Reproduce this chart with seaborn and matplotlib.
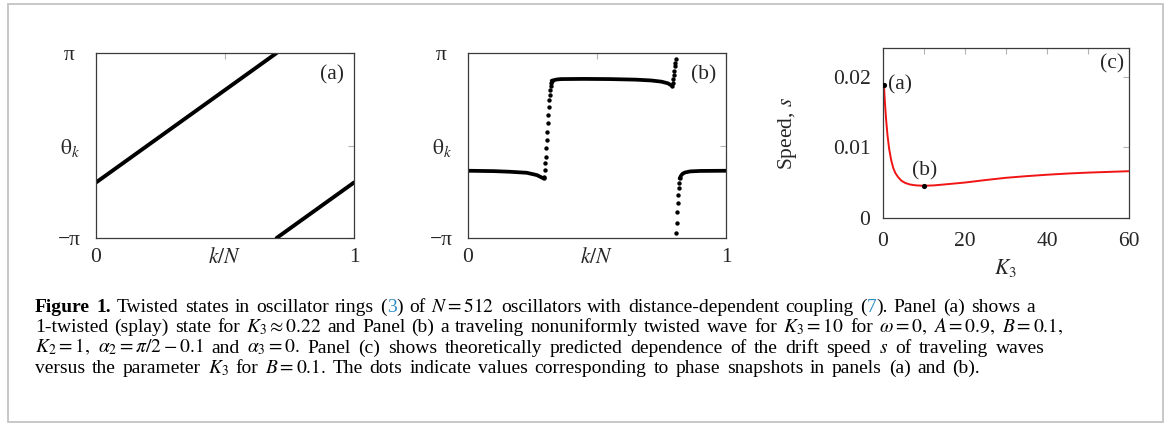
import numpy as np
import matplotlib
matplotlib.use("Agg")
import matplotlib.pyplot as plt
from matplotlib.patches import Rectangle
import seaborn as sns

# ---------------- data ----------------
N = 512

# (a) 1-twisted splay state, phase in units of pi
A_K_UP = [0.0, 0.70]
A_TH_UP = [-0.40, 1.00]
A_K_LOW = [0.70, 1.0]
A_TH_LOW = [-1.00, -0.40]

# (b) travelling nonuniformly twisted wave, phase in units of pi
B_LEFT_K = [0.0, 0.10, 0.164, 0.228, 0.267, 0.285, 0.2930]
B_LEFT_TH = [-0.273, -0.277, -0.284, -0.295, -0.320, -0.345, -0.356]
B_RISE_IDX = [150, 151, 152, 153, 154, 155, 156, 157, 158, 159, 160,
              161, 162, 163, 164, 165, 166]
B_RISE_TH = [-0.356, -0.338, -0.266, -0.194, -0.122, -0.032, 0.058, 0.147,
             0.238, 0.328, 0.417, 0.489, 0.543, 0.597, 0.641, 0.676, 0.700]
B_MID_K = [0.3242, 0.335, 0.345, 0.36, 0.45, 0.55, 0.65, 0.71, 0.75, 0.775, 0.791]
B_MID_TH = [0.700, 0.708, 0.714, 0.718, 0.720, 0.718, 0.712, 0.703, 0.690, 0.672, 0.645]
B_JUMP_IDX = [405, 406, 407, 408, 409, 410, 411, 412,
              413, 414, 415, 416, 417, 418, 419, 420]
B_JUMP_TH = [0.645, 0.675, 0.720, 0.765, 0.810, 0.855, 0.895, 0.935,
             -0.949, -0.835, -0.716, -0.626, -0.536, -0.464, -0.403, -0.356]
B_RIGHT_K = [0.8203, 0.826, 0.832, 0.841, 0.861, 0.90, 1.0]
B_RIGHT_TH = [-0.356, -0.325, -0.305, -0.292, -0.280, -0.275, -0.273]

# (c) drift speed versus K3
C_K3 = [0.22, 0.45, 0.75, 1.1, 1.5, 2.0, 2.5, 3.0, 3.7, 4.5, 5.4, 6.5, 8.0,
        10.0, 12.5, 15.0, 20.0, 25.0, 30.0, 35.0, 40.0, 45.0, 50.0, 55.0, 60.0]
C_S = [0.01887, 0.0165, 0.0140, 0.0117, 0.0098, 0.0082, 0.0071, 0.0064,
       0.0058, 0.0053, 0.0050, 0.00478, 0.00465, 0.00459, 0.00465, 0.00478,
       0.00505, 0.00540, 0.00572, 0.00595, 0.00615, 0.00632, 0.00645,
       0.00655, 0.00665]
C_MARK_K3 = [0.22, 10.0]
C_MARK_S = [0.01887, 0.00459]
C_MARK_TXT = ["(a)", "(b)"]

# ---------------- style ----------------
sns.set_theme(style="white")
plt.rcParams["font.family"] = ["Liberation Serif", "DejaVu Serif"]
plt.rcParams["mathtext.fontset"] = "stix"

W, H = 1167, 425
fig = plt.figure(figsize=(W / 100, H / 100), dpi=100)
fig.patch.set_facecolor("white")

TICK_FS = 15.5
FRAME = "#3a3a3a"
TICKC = "#b4b4b4"


def frame(ax):
    for sp in ax.spines.values():
        sp.set_visible(True)
        sp.set_color(FRAME)
        sp.set_linewidth(0.9)
    ax.grid(False)
    ax.set_facecolor("white")


def phase_axes(ax, tag):
    frame(ax)
    ax.set_xlim(0, 1)
    ax.set_ylim(-np.pi, np.pi)
    ax.set_xticks([0, 0.5, 1])
    ax.set_xticklabels(["0", r"$k/N$", "1"])
    ax.set_yticks([-np.pi, 0, np.pi])
    ax.set_yticklabels(["\u2212\u03c0", r"$\mathrm{\theta}_{k}$", "\u03c0"])
    ax.tick_params(axis="both", direction="in", length=4, width=0.8,
                   color=TICKC, top=True, right=True, labelsize=TICK_FS)
    ax.tick_params(axis="x", pad=7)
    ax.tick_params(axis="y", pad=19)
    for lb in ax.get_yticklabels():
        lb.set_horizontalalignment("center")
    ax.set_xlabel("")
    ax.set_ylabel("")
    ax.text(0.915, 0.88, tag, transform=ax.transAxes, fontsize=TICK_FS,
            ha="center", va="center")


# ---- panel (a)
ax_a = fig.add_axes([96 / W, 1 - 238 / H, 258 / W, 185 / H])
for kk, th in [(A_K_UP, A_TH_UP), (A_K_LOW, A_TH_LOW)]:
    sns.lineplot(x=kk, y=np.array(th) * np.pi, ax=ax_a, color="black",
                 linewidth=2.8)
phase_axes(ax_a, "(a)")

# ---- panel (b)
ax_b = fig.add_axes([468 / W, 1 - 238 / H, 258 / W, 185 / H])
for kk, th in [(B_LEFT_K, B_LEFT_TH), (B_MID_K, B_MID_TH), (B_RIGHT_K, B_RIGHT_TH)]:
    sns.lineplot(x=kk, y=np.array(th) * np.pi, ax=ax_b, color="black",
                 linewidth=2.7)
for idx, th in [(B_RISE_IDX, B_RISE_TH), (B_JUMP_IDX, B_JUMP_TH)]:
    sns.scatterplot(x=np.array(idx) / N, y=np.array(th) * np.pi, ax=ax_b,
                    color="black", s=10, linewidth=0)
phase_axes(ax_b, "(b)")

# ---- panel (c)
ax_c = fig.add_axes([883 / W, 1 - 218.3 / H, 246 / W, 170 / H])
frame(ax_c)
sns.lineplot(x=C_K3, y=C_S, ax=ax_c, color="#f01414", linewidth=1.4)
sns.scatterplot(x=C_MARK_K3, y=C_MARK_S, ax=ax_c, color="black", s=14,
                linewidth=0, zorder=5)
ax_c.text(C_MARK_K3[0] + 1.0, C_MARK_S[0], C_MARK_TXT[0], fontsize=TICK_FS,
          ha="left", va="center")
ax_c.text(C_MARK_K3[1] + 0.2, C_MARK_S[1] + 0.0021, C_MARK_TXT[1],
          fontsize=TICK_FS, ha="center", va="center")
ax_c.set_xlim(0, 60)
ax_c.set_ylim(0, 0.024)
ax_c.set_xticks([0, 20, 40, 60])
ax_c.set_xticks([10, 30, 50], minor=True)
ax_c.set_xticklabels(["0", "20", "40", "60"])
ax_c.set_yticks([0, 0.01, 0.02])
ax_c.set_yticklabels(["0", "0.01", "0.02"])
ax_c.tick_params(axis="both", which="both", direction="in", length=4,
                 width=0.8, color=TICKC, top=True, right=True,
                 labelsize=TICK_FS)
ax_c.tick_params(axis="x", which="both", pad=10)
ax_c.tick_params(axis="y", which="both", pad=9)
ax_c.set_xlabel(r"$K_{\mathit{3}}$", fontsize=TICK_FS, va="center")
ax_c.xaxis.set_label_coords(0.496, -0.29)
ax_c.set_ylabel(r"Speed, $s$", fontsize=TICK_FS, va="center")
ax_c.yaxis.set_label_coords(-0.39, 0.5)
ax_c.text(0.93, 0.908, "(c)", transform=ax_c.transAxes, fontsize=TICK_FS,
          ha="center", va="center")

# ---------------- caption ----------------
CAP_FS = 14.0
BLUE = "#2b8cc4"
cap_lines = [
    [[("Figure", "black", "bold")], [("1.", "black", "bold")],
     "Twisted", "states", "in", "oscillator", "rings",
     [("(", "black", "normal"), ("3", BLUE, "normal"), (")", "black", "normal")],
     "of", r"$N=512$", "oscillators", "with", "distance-dependent", "coupling",
     [("(", "black", "normal"), ("7", BLUE, "normal"), (").", "black", "normal")],
     "Panel", "(a)", "shows", "a"],
    "1-twisted (splay) state for $K_3\\approx0.22$ and Panel (b) a traveling "
    "nonuniformly twisted wave for $K_3=10$ for $\\omega=0,$ $A=0.9,$ $B=0.1,$".split(" "),
    "$K_2=1,$ $\\alpha_2=\\pi/2-0.1$ and $\\alpha_3=0.$ Panel (c) shows theoretically "
    "predicted dependence of the drift speed $s$ of traveling waves".split(" "),
    "versus the parameter $K_3$ for $B=0.1.$ The dots indicate values "
    "corresponding to phase snapshots in panels (a) and (b).".split(" "),
]
baselines = [311.7, 332.2, 352.7, 373.2]
line_ends = [1035, 1063, 1045, 980]
LEFT = 35.0
renderer = fig.canvas.get_renderer()


def make_word(word):
    segs = [(word, "black", "normal")] if isinstance(word, str) else word
    texts, widths = [], []
    for s, col, wt in segs:
        t = fig.text(0, 0, s, fontsize=CAP_FS, ha="left", va="baseline",
                     color=col, fontweight=wt)
        texts.append(t)
        widths.append(t.get_window_extent(renderer).width)
    return texts, widths


for words, base, end in zip(cap_lines, baselines, line_ends):
    built = [make_word(w) for w in words]
    total = sum(sum(ws) for _, ws in built)
    gap = (end - LEFT - total) / (len(built) - 1)
    x = LEFT
    for texts, ws in built:
        for t, w in zip(texts, ws):
            t.set_position((x / W, 1 - base / H))
            x += w
        x += gap

# outer frame
fig.patches.append(Rectangle((8 / W, 1 - 421.5 / H), 1155 / W, 418 / H,
                             transform=fig.transFigure, fill=False,
                             edgecolor="#c4c4c4", linewidth=1.3))

fig.savefig("out.png", dpi=100, facecolor="white")
